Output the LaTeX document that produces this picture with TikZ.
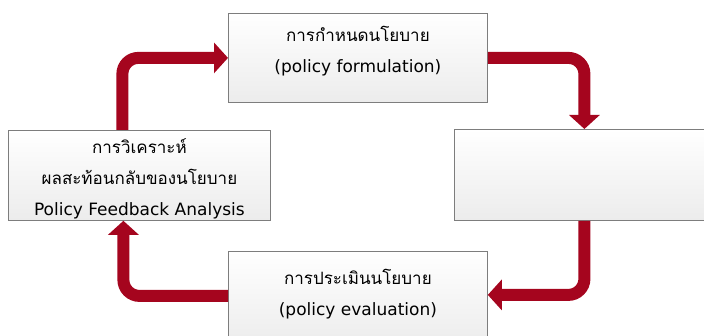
\documentclass[tikz,border=0pt]{standalone}
\usepackage{fontspec}
\setmainfont{Loma}[Script=Thai]
\newfontfamily\latinfont{DejaVu Sans}
\usetikzlibrary{arrows.meta}
\definecolor{flowred}{RGB}{165,5,30}
\definecolor{boxline}{RGB}{125,125,125}
\begin{document}
\begin{tikzpicture}[x=1pt,y=-1pt,
  stagebox/.style={draw=boxline, line width=0.8pt, top color=white, bottom color=gray!15,
    rectangle, anchor=north west, inner sep=0pt},
  stagetext/.style={align=center, inner sep=0pt, font=\fontsize{17}{31}\selectfont},
  cycle/.style={draw=flowred, line width=12pt, rounded corners=16pt,
    -{Triangle[width=30pt,length=14pt]}}]
\useasboundingbox (0,0) rectangle (704,336);
\clip (0,0) rectangle (704,336);

% the four stages of the policy cycle
\node[stagebox, minimum width=259pt, minimum height=89pt] (tb) at (228,13) {};
\node[stagebox, minimum width=262pt, minimum height=90pt] (lb) at (8,130) {};
\node[stagebox, minimum width=260pt, minimum height=91pt] (rb) at (454,129) {};
\node[stagebox, minimum width=259pt, minimum height=95pt] (bb) at (228,251) {};

\node[stagetext] (tbt) at ([yshift=7pt]tb.center) {การกำหนดนโยบาย\\{\latinfont (policy formulation)}};
\node[stagetext] (lbt) at ([yshift=-3pt]lb.center) {การวิเคราะห์\\ผลสะท้อนกลับของนโยบาย\\{\latinfont Policy Feedback Analysis}};
\node[stagetext] (bbt) at ([yshift=5pt]bb.center) {การประเมินนโยบาย\\{\latinfont (policy evaluation)}};

% arrows running clockwise round the cycle
\draw[cycle] ([xshift=-17pt]lb.north) |- (tb.west);
\draw[cycle] (tb.east) -| (rb.north);
\draw[cycle] (rb.south) |- ([yshift=4pt]bb.east);
\draw[cycle] ([yshift=3pt]bb.west) -| ([xshift=-16pt]lb.south);
\end{tikzpicture}
\end{document}
